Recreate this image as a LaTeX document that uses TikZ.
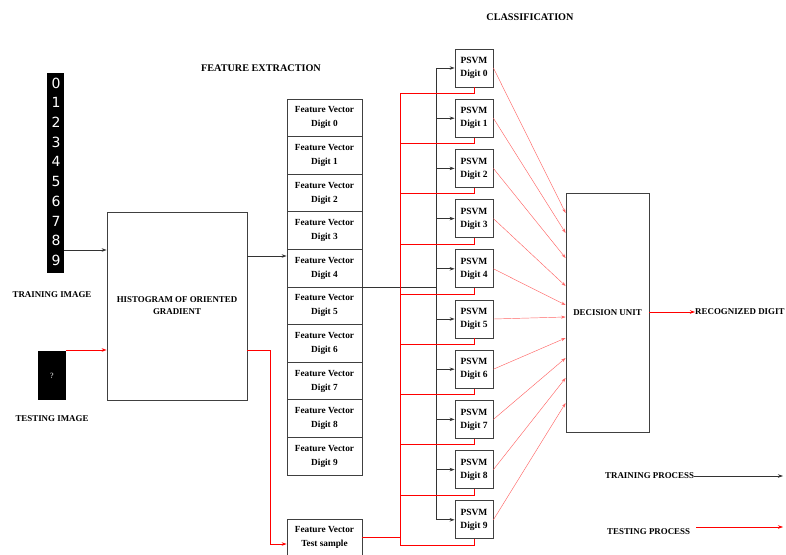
\documentclass[tikz,border=0pt]{standalone}
\usepackage{fontspec}
\setmainfont{Liberation Serif}
\newfontfamily\digfont{DejaVu Sans}
\usetikzlibrary{arrows.meta}
\begin{document}
\begin{tikzpicture}[x=1pt,y=-1pt,
 box/.style={draw=black!75, line width=0.8pt, inner sep=0pt, align=center, font=\fontsize{9.3}{14}\selectfont\bfseries},
 fv/.style={box, minimum width=75pt, minimum height=37.6pt},
 psvm/.style={box, minimum width=38pt, minimum height=38pt, font=\fontsize{9.5}{13}\selectfont\bfseries},
 lbl/.style={font=\fontsize{8.9}{10}\selectfont\bfseries, inner sep=0pt},
 ttl/.style={font=\fontsize{10.2}{12}\selectfont\bfseries, inner sep=0pt},
 blk/.style={draw=black!80, line width=0.7pt},
 blkarr/.style={blk, -{Stealth[length=5pt,width=3.5pt]}},
 redl/.style={draw=red, line width=0.8pt},
 redarr/.style={redl, -{Stealth[length=5pt,width=3.5pt]}},
 lightarr/.style={draw=red!60, line width=0.45pt, -{Stealth[length=4.5pt,width=3pt]}},
 dig/.style={text=white, inner sep=0pt, font=\digfont\fontsize{14}{14}\selectfont},
]
\useasboundingbox (0,0) rectangle (786,554);

% titles
\node[ttl] (fe) at (261,68) {FEATURE EXTRACTION};
\node[ttl] (cl) at (530,17) {CLASSIFICATION};

% training image
\node[fill=black, minimum width=17pt, minimum height=200pt, inner sep=0pt, anchor=north west] (train) at (47,73) {};
\foreach \d in {0,...,9}
  \node[dig] (dg\d) at (56,83+19.7*\d) {\d};
\node[lbl] (trainlbl) at (52,295) {TRAINING IMAGE};

% testing image
\node[fill=black, minimum width=28pt, minimum height=49pt, inner sep=0pt, anchor=north west] (test) at (38,351) {};
\node[text=white, inner sep=0pt, font=\fontsize{8}{8}\selectfont] (qm) at (52,376) {?};
\node[lbl] (testlbl) at (52,419) {TESTING IMAGE};

% HOG
\node[box, minimum width=140pt, minimum height=188pt, font=\fontsize{8.9}{12}\selectfont\bfseries] (hog) at (177,306) {HISTOGRAM OF ORIENTED\\GRADIENT};

\draw[blkarr] (train.east |- 0,250) -- (hog.west |- 0,250);
\draw[redarr] (test.east |- 0,350) -- (hog.west |- 0,350);

% feature vectors
\foreach \i in {0,...,9}
  \node[fv] (fv\i) at (324.5,117.8+37.6*\i) {Feature Vector\\Digit \i};
\node[fv] (fvt) at (324.5,537.8) {Feature Vector\\Test sample};

\draw[blkarr] (hog.east |- 0,256) -- (fv4.west |- 0,256);
\draw[redarr] (hog.east |- 0,350) -- ++(23,0) |- (fvt.west |- 0,544);

% PSVMs
\foreach \i in {0,...,9}
  \node[psvm] (psvm\i) at (474,68+50.2*\i) {PSVM\\Digit \i};

% black bus
\coordinate (bustop) at (436,68);
\coordinate (busbot) at (436,519.8);
\draw[blk] (bustop) -- (busbot);
\draw[blk] (fv4.south east) -- (fv4.south east -| bustop);
\foreach \i in {0,...,9}
  \draw[blkarr] (psvm\i.west -| bustop) -- (psvm\i.west);

% red bus
\coordinate (rbustop) at (400,93);
\coordinate (rbusbot) at (400,545);
\draw[redl] (rbustop) -- (rbusbot);
\foreach \i in {0,...,9}
  \draw[redl] (psvm\i.south) -- ++(0,6) coordinate (r\i) -- (r\i -| rbustop);
\draw[redl] (fvt.east) -- (fvt.east -| rbustop);

% decision unit
\node[box, minimum width=83pt, minimum height=239pt, font=\fontsize{8.9}{12}\selectfont\bfseries] (dec) at (607.5,312.5) {DECISION UNIT};
\foreach \i/\t in {0/213,1/233,2/258,3/286,4/305,5/317,6/338,7/358,8/378,9/403}
  \draw[lightarr] (psvm\i.east) -- (dec.west |- 0,\t);

\node[lbl, anchor=west] (recog) at (695,312) {RECOGNIZED DIGIT};
\draw[redarr] (dec.east |- recog.west) -- (recog.west);

% legend
\node[lbl, anchor=west] (trp) at (605,476) {TRAINING PROCESS};
\coordinate (trpend) at (783,476);
\draw[blkarr] (trp.east) -- (trpend);
\node[lbl, anchor=west] (tsp) at (607,532) {TESTING PROCESS};
\coordinate (tspend) at (783,527);
\draw[redarr, line width=0.5pt] ([shift={(6,-5)}]tsp.east) -- (tspend);
\end{tikzpicture}
\end{document}
